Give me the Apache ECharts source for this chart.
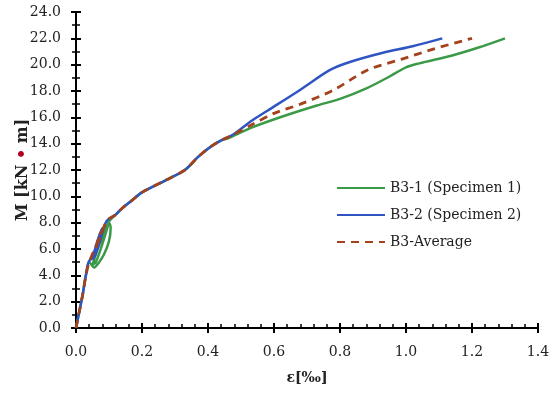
<!DOCTYPE html>
<html><head><meta charset="utf-8">
<script src="https://cdn.jsdelivr.net/npm/echarts@6/dist/echarts.min.js"></script>
<style>html,body{margin:0;padding:0;background:#fff}#c{width:550px;height:394px}</style>
</head><body><div id="c"></div>
<script>
const seriesNames = ['B3-1 (Specimen 1)', 'B3-2 (Specimen 2)', 'B3-Average'];
const xTicks = ['0.0','0.2','0.4','0.6','0.8','1.0','1.2','1.4'];
const common = [[0.12,8.6],[0.14,9.1],[0.17,9.7],[0.2,10.3],[0.27,11.2],[0.33,12.0],[0.37,13.0],[0.41,13.8],[0.44,14.25]];
const b31 = [[0,0],[0.008,1.0],[0.02,2.5],[0.03,4.0],[0.04,5.0],[0.055,4.6],[0.07,5.0],[0.085,5.6],[0.1,6.6],[0.105,7.6],[0.1,8.0],[0.085,7.2],[0.065,6.0],[0.05,4.8],[0.06,5.0],[0.08,6.4],[0.095,7.6],[0.1,8.1]]
  .concat(common, [[0.46,14.4],[0.53,15.2],[0.63,16.1],[0.73,16.9],[0.8,17.4],[0.88,18.2],[0.95,19.1],[1.0,19.8],[1.04,20.1],[1.14,20.7],[1.22,21.3],[1.3,22.0]]);
const b32 = [[0,0],[0.008,1.0],[0.02,2.5],[0.03,4.0],[0.038,5.0],[0.05,5.4],[0.06,6.2],[0.07,7.0],[0.08,7.6],[0.07,6.8],[0.055,5.8],[0.05,5.2],[0.06,5.6],[0.075,6.8],[0.09,8.0],[0.1,8.3]]
  .concat(common, [[0.48,14.75],[0.53,15.7],[0.58,16.5],[0.68,18.1],[0.77,19.6],[0.83,20.2],[0.93,20.9],[1.02,21.4],[1.11,22.0]]);
const avg = [[0,0],[0.008,1.0],[0.02,2.5],[0.03,4.0],[0.04,5.0],[0.06,6.2],[0.08,7.4],[0.07,7.0],[0.06,6.0],[0.065,6.4],[0.09,8.0],[0.1,8.3]]
  .concat(common, [[0.47,14.6],[0.53,15.4],[0.6,16.3],[0.68,17.0],[0.78,18.07],[0.884,19.6],[0.985,20.4],[1.085,21.2],[1.2,22.0]]);

const font = 'DejaVu Serif';
const colors = ['#3b9a47', '#2f55c2', '#a3421c'];
const chart = echarts.init(document.getElementById('c'));
const gridPos = {left: 76, right: 12, top: 12, bottom: 66, containLabel:false, outerBoundsMode:'none'};
const baseX = {type:'value', min:0, max:1.4, interval:0.2, gridIndex:0};
const baseY = {type:'value', min:0, max:24, interval:2, gridIndex:0};
chart.setOption({
  animation: false,
  grid: gridPos,
  legend: {
    orient:'vertical', left:331, top:176, itemWidth:48, itemHeight:14, itemGap:13,
    itemStyle:{color:'rgba(0,0,0,0)', borderWidth:0, opacity:0},
    textStyle:{fontFamily:font, fontSize:14, color:'#222'},
    data: seriesNames
  },
  xAxis: [
    Object.assign({}, baseX, {
      name:'ε[‰]', nameLocation:'middle', nameGap:43, nameMoveOverlap:false,
      nameTextStyle:{fontFamily:font, fontSize:14, fontWeight:'bold', color:'#222'},
      axisLine:{lineStyle:{color:'#000', width:2}},
      axisTick:{show:true, length:5, lineStyle:{color:'#000', width:2}},
      minorTick:{show:false},
      axisLabel:{fontFamily:font, fontSize:14, color:'#222', margin:17, formatter:(v)=>xTicks[Math.round(v/0.2)]},
      splitLine:{show:false}
    }),
    Object.assign({}, baseX, {
      position:'bottom', axisLine:{show:false},
      axisTick:{show:true, inside:true, length:5, lineStyle:{color:'#000', width:2}},
      minorTick:{show:true, splitNumber:5, length:4, lineStyle:{color:'#000', width:1.5}},
      axisLabel:{show:false}, splitLine:{show:false}
    })
  ],
  yAxis: [
    Object.assign({}, baseY, {
      name:'M [kN {d|•} m]', nameLocation:'middle', nameGap:45, nameMoveOverlap:false,
      nameTextStyle:{fontFamily:font, fontSize:16, fontWeight:'bold', color:'#222',
        rich:{d:{color:'#b00020', fontFamily:font, fontSize:16, fontWeight:'bold'}}},
      axisLine:{lineStyle:{color:'#000', width:2}},
      axisTick:{show:true, length:5, lineStyle:{color:'#000', width:2}},
      minorTick:{show:true, splitNumber:2, length:4, lineStyle:{color:'#000', width:1.5}},
      axisLabel:{fontFamily:font, fontSize:14, color:'#222', margin:15, formatter:(v)=>v.toFixed(1)},
      splitLine:{show:false}
    }),
    Object.assign({}, baseY, {
      position:'left', axisLine:{show:false},
      axisTick:{show:true, inside:true, length:5, lineStyle:{color:'#000', width:2}},
      minorTick:{show:true, splitNumber:2, length:4, lineStyle:{color:'#000', width:1.5}},
      axisLabel:{show:false}, splitLine:{show:false}
    })
  ],
  series: [
    {name:seriesNames[0], type:'line', data:b31, showSymbol:false, symbol:'none', smooth:0.3, color:colors[0], lineStyle:{width:2.5, color:colors[0]}, z:2},
    {name:seriesNames[1], type:'line', data:b32, showSymbol:false, symbol:'none', smooth:0.3, color:colors[1], lineStyle:{width:2.5, color:colors[1]}, z:3},
    {name:seriesNames[2], type:'line', data:avg, showSymbol:false, symbol:'none', smooth:0.3, color:colors[2], lineStyle:{width:2.8, color:colors[2], type:[8,6]}, z:4}
  ]
});
</script></body></html>
